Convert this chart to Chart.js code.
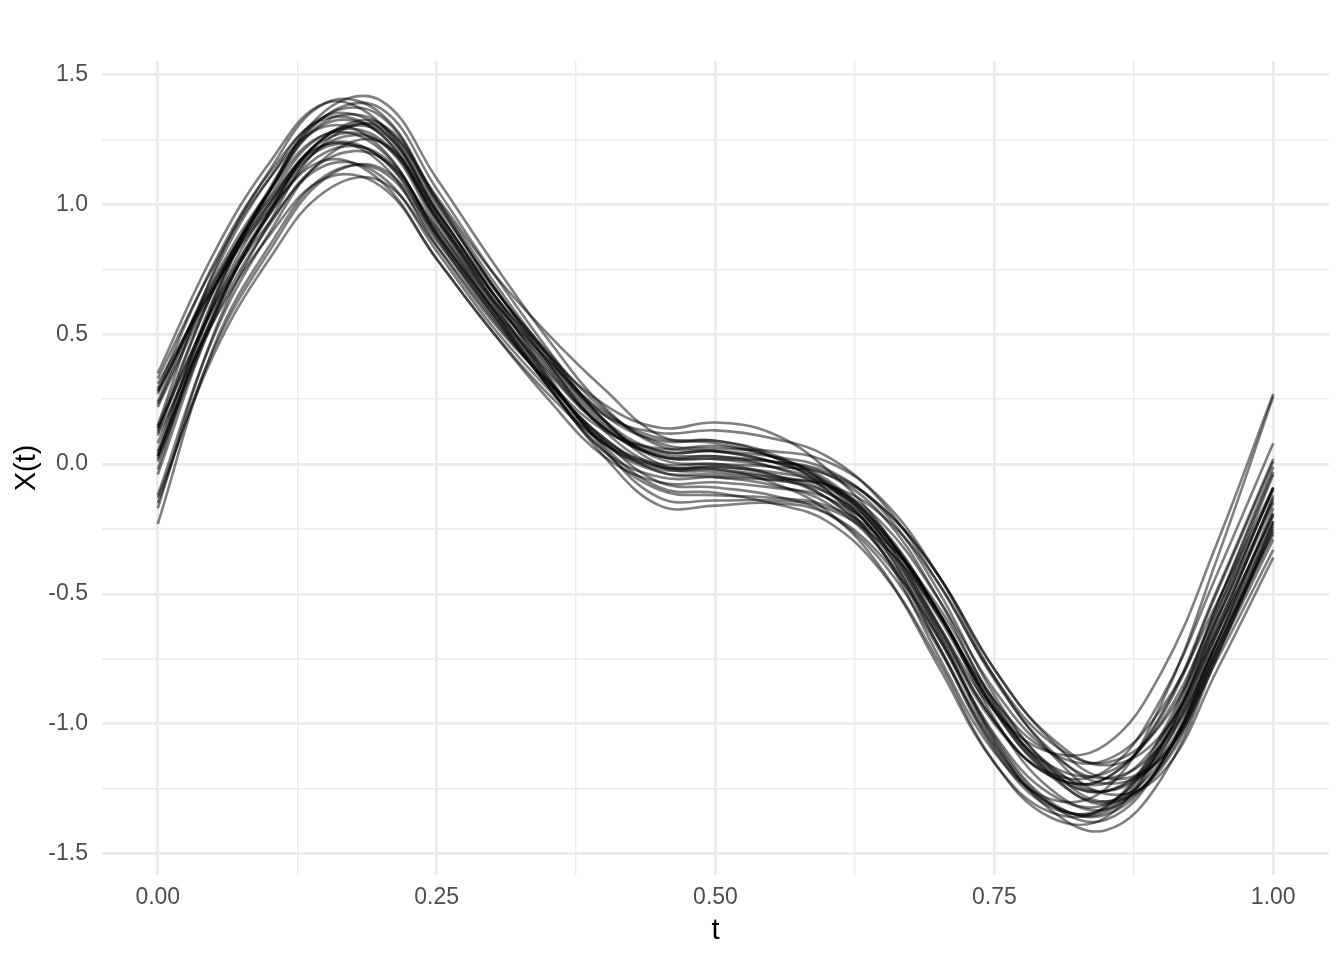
<!DOCTYPE html>
<html>
<head>
<meta charset="utf-8">
<script src="https://cdn.jsdelivr.net/npm/chart.js@4.4.1/dist/chart.umd.min.js"></script>
<style>
  html, body { margin: 0; padding: 0; background: #ffffff; }
  #wrap { width: 1344px; height: 960px; }
</style>
</head>
<body>
<div id="wrap"><canvas id="curvesChart" width="1344" height="960"></canvas></div>
<script>
// sample times shared by every curve
const tValues = [0, 0.05, 0.10, 0.15, 0.20, 0.25, 0.30, 0.35, 0.40, 0.45, 0.50,
                 0.55, 0.60, 0.65, 0.70, 0.75, 0.80, 0.85, 0.90, 0.95, 1.00];

// X(t) for each simulated curve
const curve01 = [0.24, 0.73, 1.10, 1.34, 1.29, 0.96, 0.64, 0.38, 0.15, 0.05, 0.05, 0.03, -0.02, -0.18, -0.49, -0.89, -1.17, -1.30, -1.17, -0.73, -0.25];
const curve02 = [-0.15, 0.44, 0.82, 1.10, 1.14, 0.88, 0.60, 0.32, 0.09, -0.07, -0.09, -0.12, -0.19, -0.38, -0.71, -1.09, -1.31, -1.34, -1.11, -0.63, -0.13];
const curve03 = [0.35, 0.81, 1.16, 1.39, 1.31, 0.97, 0.66, 0.40, 0.19, 0.12, 0.13, 0.10, 0.03, -0.15, -0.46, -0.82, -1.07, -1.15, -1.00, -0.59, -0.14];
const curve04 = [0.02, 0.57, 0.96, 1.23, 1.24, 0.94, 0.63, 0.33, 0.07, -0.09, -0.11, -0.15, -0.22, -0.42, -0.76, -1.15, -1.36, -1.36, -1.08, -0.57, -0.04];
const curve05 = [0.13, 0.61, 0.96, 1.20, 1.19, 0.90, 0.61, 0.36, 0.14, 0.03, 0.02, -0.01, -0.08, -0.25, -0.57, -0.93, -1.17, -1.23, -1.05, -0.62, -0.15];
const curve06 = [0.15, 0.74, 1.13, 1.39, 1.35, 1.02, 0.69, 0.42, 0.19, 0.09, 0.09, 0.03, -0.10, -0.34, -0.74, -1.11, -1.29, -1.25, -0.92, -0.36, 0.26];
const curve07 = [-0.23, 0.45, 0.84, 1.11, 1.13, 0.86, 0.58, 0.30, 0.05, -0.10, -0.12, -0.13, -0.16, -0.29, -0.55, -0.91, -1.16, -1.26, -1.12, -0.71, -0.27];
const curve08 = [0.27, 0.71, 1.05, 1.27, 1.21, 0.89, 0.59, 0.32, 0.10, -0.01, -0.01, -0.04, -0.11, -0.30, -0.65, -1.06, -1.31, -1.37, -1.15, -0.65, -0.12];
const curve09 = [0.03, 0.58, 0.98, 1.26, 1.28, 0.98, 0.66, 0.39, 0.16, 0.03, 0.02, 0.01, -0.03, -0.17, -0.43, -0.79, -1.06, -1.21, -1.13, -0.75, -0.33];
const curve10 = [0.23, 0.69, 1.03, 1.27, 1.25, 0.95, 0.66, 0.42, 0.23, 0.14, 0.16, 0.12, -0.02, -0.25, -0.62, -0.99, -1.20, -1.21, -0.97, -0.49, 0.01];
const curve11 = [-0.04, 0.56, 0.97, 1.26, 1.29, 0.98, 0.66, 0.34, 0.06, -0.13, -0.14, -0.14, -0.17, -0.31, -0.58, -0.95, -1.19, -1.26, -1.10, -0.68, -0.22];
const curve12 = [0.28, 0.68, 1.00, 1.22, 1.18, 0.89, 0.60, 0.35, 0.14, 0.04, 0.03, 0.01, -0.04, -0.20, -0.52, -0.92, -1.19, -1.31, -1.16, -0.71, -0.22];
const curve13 = [0.05, 0.64, 1.06, 1.34, 1.34, 1.01, 0.69, 0.41, 0.17, 0.05, 0.05, 0.01, -0.07, -0.26, -0.58, -0.91, -1.11, -1.14, -0.94, -0.53, -0.09];
const curve14 = [0.29, 0.77, 1.12, 1.33, 1.27, 0.95, 0.64, 0.37, 0.14, 0.03, 0.03, -0.01, -0.10, -0.30, -0.64, -1.00, -1.19, -1.18, -0.90, -0.42, 0.08];
const curve15 = [-0.13, 0.42, 0.79, 1.05, 1.09, 0.84, 0.56, 0.31, 0.10, -0.03, -0.05, -0.08, -0.15, -0.34, -0.67, -1.07, -1.33, -1.41, -1.21, -0.74, -0.23];
const curve16 = [0.33, 0.76, 1.10, 1.30, 1.22, 0.88, 0.58, 0.30, 0.05, -0.05, -0.05, -0.06, -0.08, -0.20, -0.46, -0.83, -1.10, -1.23, -1.13, -0.73, -0.29];
const curve17 = [0.01, 0.55, 0.92, 1.17, 1.18, 0.91, 0.63, 0.40, 0.20, 0.10, 0.09, 0.04, -0.08, -0.31, -0.70, -1.10, -1.32, -1.32, -1.06, -0.54, -0.01];
const curve18 = [0.14, 0.67, 1.05, 1.31, 1.27, 0.94, 0.62, 0.33, 0.08, -0.03, -0.04, -0.06, -0.11, -0.27, -0.57, -0.95, -1.20, -1.30, -1.14, -0.71, -0.24];
const curve19 = [0.04, 0.57, 0.97, 1.26, 1.31, 1.03, 0.74, 0.50, 0.29, 0.11, 0.08, 0.03, -0.07, -0.28, -0.62, -0.95, -1.11, -1.08, -0.80, -0.30, 0.27];
const curve20 = [0.08, 0.61, 1.00, 1.25, 1.24, 0.92, 0.60, 0.30, 0.03, -0.16, -0.16, -0.15, -0.19, -0.36, -0.67, -1.05, -1.30, -1.35, -1.15, -0.68, -0.19];
const curve21 = [-0.12, 0.49, 0.89, 1.18, 1.24, 0.97, 0.68, 0.43, 0.21, 0.08, 0.06, 0.05, 0.01, -0.14, -0.43, -0.82, -1.11, -1.27, -1.19, -0.79, -0.36];
const curve22 = [0.22, 0.67, 1.01, 1.23, 1.18, 0.87, 0.57, 0.31, 0.09, 0.00, 0.00, -0.04, -0.13, -0.34, -0.70, -1.08, -1.31, -1.33, -1.09, -0.60, -0.09];
const curve23 = [0.03, 0.63, 1.05, 1.34, 1.37, 1.06, 0.74, 0.44, 0.17, 0.02, 0.00, -0.01, -0.04, -0.17, -0.43, -0.79, -1.05, -1.16, -1.04, -0.64, -0.20];
const curve24 = [0.11, 0.55, 0.88, 1.10, 1.07, 0.79, 0.51, 0.27, 0.08, -0.02, -0.02, -0.07, -0.18, -0.41, -0.78, -1.15, -1.34, -1.32, -1.04, -0.54, -0.03];
const curve25 = [0.12, 0.67, 1.05, 1.32, 1.31, 1.00, 0.69, 0.39, 0.13, -0.01, -0.03, -0.05, -0.09, -0.26, -0.57, -0.98, -1.25, -1.33, -1.15, -0.68, -0.17];
const curve26 = [0.28, 0.70, 1.02, 1.23, 1.16, 0.84, 0.55, 0.32, 0.13, 0.06, 0.07, 0.03, -0.06, -0.26, -0.59, -0.94, -1.16, -1.19, -0.99, -0.56, -0.10];
const curve27 = [-0.02, 0.62, 1.05, 1.36, 1.40, 1.10, 0.78, 0.48, 0.22, 0.07, 0.05, 0.01, -0.08, -0.28, -0.63, -0.99, -1.20, -1.21, -0.96, -0.48, 0.02];
const curve28 = [0.14, 0.60, 0.93, 1.15, 1.11, 0.82, 0.53, 0.29, 0.08, -0.01, -0.01, -0.03, -0.08, -0.23, -0.52, -0.87, -1.11, -1.21, -1.08, -0.69, -0.26];
const curve29 = [-0.17, 0.50, 0.93, 1.24, 1.30, 1.02, 0.71, 0.42, 0.17, 0.00, -0.02, -0.05, -0.13, -0.32, -0.66, -1.04, -1.27, -1.31, -1.08, -0.59, -0.09];
const curve30 = [0.31, 0.68, 0.98, 1.17, 1.09, 0.79, 0.51, 0.25, 0.03, -0.07, -0.07, -0.09, -0.13, -0.28, -0.57, -0.94, -1.18, -1.26, -1.08, -0.65, -0.19];

const curves = [curve01, curve02, curve03, curve04, curve05, curve06, curve07, curve08, curve09, curve10,
                curve11, curve12, curve13, curve14, curve15, curve16, curve17, curve18, curve19, curve20,
                curve21, curve22, curve23, curve24, curve25, curve26, curve27, curve28, curve29, curve30];

// axis breaks (major get a label, minor only a thin grid line)
const xMajor = [0, 0.25, 0.5, 0.75, 1];
const xMinor = [0.125, 0.375, 0.625, 0.875];
const yMajor = [-1.5, -1.0, -0.5, 0, 0.5, 1.0, 1.5];
const yMinor = [-1.25, -0.75, -0.25, 0.25, 0.75, 1.25];

const xLabels = ['0.00', '0.25', '0.50', '0.75', '1.00'];
const yLabels = ['-1.5', '-1.0', '-0.5', '0.0', '0.5', '1.0', '1.5'];

const gridColor = '#ebebeb';
const tickColor = '#4d4d4d';
const fontFamily = '"Liberation Sans", Arial, Helvetica, sans-serif';

function sortedTicks(major, minor) {
  return major.concat(minor).sort(function(a, b) { return a - b; }).map(function(v) {
    return { value: v };
  });
}

function labelFor(major, labels, value) {
  for (let i = 0; i < major.length; i++) {
    if (Math.abs(major[i] - value) < 1e-9) return labels[i];
  }
  return '';
}

function isMajor(major, value) {
  return major.some(function(m) { return Math.abs(m - value) < 1e-9; });
}

const datasets = curves.map(function(values, idx) {
  return {
    label: 'curve ' + (idx + 1),
    data: values.map(function(v, i) { return { x: tValues[i], y: v }; }),
    borderColor: 'rgba(0, 0, 0, 0.5)',
    borderWidth: 2.6,
    pointRadius: 0,
    fill: false,
    tension: 0.4
  };
});

Chart.defaults.font.family = fontFamily;

const ctx = document.getElementById('curvesChart');

new Chart(ctx, {
  type: 'line',
  data: { datasets: datasets },
  options: {
    responsive: false,
    devicePixelRatio: 1,
    animation: false,
    events: [],
    layout: {
      padding: { top: 61, right: 15, bottom: 0, left: 0 }
    },
    plugins: {
      legend: { display: false },
      tooltip: { enabled: false }
    },
    scales: {
      x: {
        type: 'linear',
        min: -0.05,
        max: 1.05,
        bounds: 'data',
        afterBuildTicks: function(axis) { axis.ticks = sortedTicks(xMajor, xMinor); },
        afterFit: function(axis) { axis.height = 85; },
        border: { display: false },
        grid: {
          color: gridColor,
          drawTicks: false,
          lineWidth: function(c) { return isMajor(xMajor, c.tick.value) ? 2.8 : 1.4; }
        },
        ticks: {
          autoSkip: false,
          maxRotation: 0,
          padding: 9,
          color: tickColor,
          font: { size: 23 },
          callback: function(value) { return labelFor(xMajor, xLabels, value); }
        },
        title: {
          display: true,
          text: 't',
          color: '#000000',
          font: { size: 29 },
          padding: { top: 0, bottom: 12 }
        }
      },
      y: {
        type: 'linear',
        min: -1.5825,
        max: 1.5525,
        bounds: 'data',
        afterBuildTicks: function(axis) { axis.ticks = sortedTicks(yMajor, yMinor); },
        afterFit: function(axis) { axis.width = 102; },
        border: { display: false },
        grid: {
          color: gridColor,
          drawTicks: false,
          lineWidth: function(c) { return isMajor(yMajor, c.tick.value) ? 2.8 : 1.4; }
        },
        ticks: {
          autoSkip: false,
          padding: 14,
          color: tickColor,
          font: { size: 23 },
          callback: function(value) { return labelFor(yMajor, yLabels, value); }
        },
        title: {
          display: true,
          text: 'X(t)',
          color: '#000000',
          font: { size: 29 },
          padding: { top: 10, bottom: 0 }
        }
      }
    }
  }
});
</script>
</body>
</html>
